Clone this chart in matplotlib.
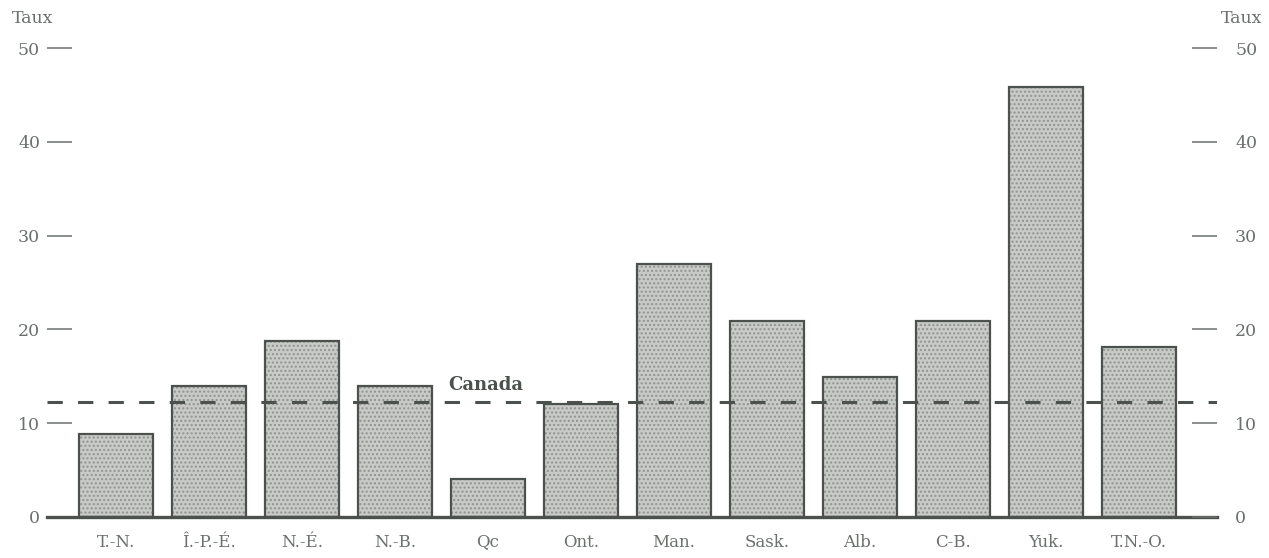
#!/usr/bin/env python3
"""
Taux par province/territoire, barres pointillées avec moyenne canadienne.
"""
import matplotlib
matplotlib.use("Agg")
import matplotlib.pyplot as plt

provinces = ["T.-N.", "Î.-P.-É.", "N.-É.", "N.-B.", "Qc", "Ont.",
             "Man.", "Sask.", "Alb.", "C-B.", "Yuk.", "T.N.-O."]
taux = [8.9, 14.0, 18.8, 14.0, 4.1, 12.1, 27.0, 20.9, 14.9, 20.9, 45.9, 18.1]
taux_canada = 12.3
yticks = [0, 10, 20, 30, 40, 50]

TEXT = "#6a706b"
DARK = "#4b524d"
FILL = "#c8cac8"

plt.rcParams["font.family"] = ["DejaVu Serif"]

fig = plt.figure(figsize=(12.69, 5.58), dpi=100)
ax = fig.add_axes([0.037, 0.0735, 0.922, 0.857])

x = list(range(len(provinces)))
# stipple fill, then the outline on top
ax.bar(x, taux, width=0.8, color=FILL, edgecolor="#8f948f", hatch="....",
       linewidth=0, zorder=2)
ax.bar(x, taux, width=0.8, fill=False, edgecolor=DARK, linewidth=1.6,
       zorder=3)

ax.axhline(taux_canada, color=DARK, linewidth=2.2, linestyle=(0, (5, 5)),
           zorder=4)
ax.text(3.98, taux_canada + 0.8, "Canada", color=DARK, fontsize=13,
        fontweight="bold", ha="center", va="bottom")

ax.set_xlim(-0.74, 11.84)
ax.set_ylim(0, 51)

for side in ("top", "left", "right"):
    ax.spines[side].set_visible(False)
ax.spines["bottom"].set_color(DARK)
ax.spines["bottom"].set_linewidth(2.4)
ax.spines["bottom"].set_zorder(5)

ax.set_xticks(x)
ax.set_xticklabels(provinces)
ax.tick_params(axis="x", length=0, pad=12, labelsize=12, labelcolor=TEXT)

ax.set_yticks(yticks)
ax.tick_params(axis="y", direction="in", length=18, width=1.1, color=TEXT,
               left=True, right=False, labelsize=12.5, labelcolor=TEXT, pad=5)

# right-hand scale, same values
ax2 = ax.twinx()
ax2.set_ylim(ax.get_ylim())
ax2.set_yticks(yticks)
for side in ("top", "left", "right", "bottom"):
    ax2.spines[side].set_visible(False)
ax2.tick_params(axis="y", direction="in", length=18, width=1.1, color=TEXT,
                labelsize=12.5, labelcolor=TEXT, pad=13)

fig.text(0.009, 0.967, "Taux", color=TEXT, fontsize=12.5, ha="left", va="center")
fig.text(0.995, 0.967, "Taux", color=TEXT, fontsize=12.5, ha="right", va="center")

fig.savefig("out.png", dpi=100, facecolor="white")
